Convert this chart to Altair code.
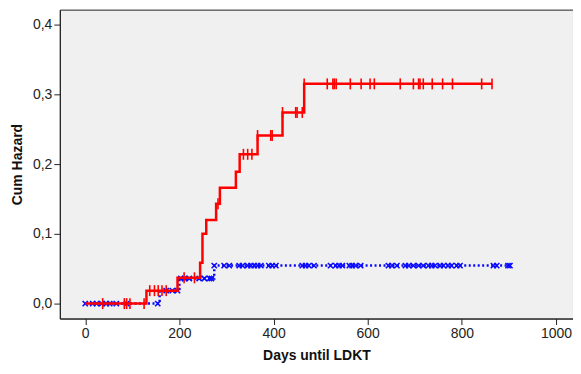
import altair as alt
import pandas as pd

# Red group: step times (days) and cumulative hazard
red_days = [0, 130, 196, 244, 249, 257, 278, 286, 320, 328, 366, 419, 465, 864]
red_haz = [0.0, 0.0186, 0.037, 0.0586, 0.100, 0.120, 0.143, 0.166, 0.189, 0.214, 0.241, 0.274, 0.315, 0.315]
red_cens_days = [37, 83, 88, 95, 125, 137, 147, 155, 163, 172, 210, 232, 282, 336, 345, 354,
                 366, 394, 397, 419, 447, 450, 461, 465, 514, 526, 529, 533, 563, 586, 605,
                 614, 669, 697, 708, 711, 718, 737, 759, 780, 842, 864]

# Blue group
blue_days = [0, 158, 200, 274, 903]
blue_haz = [0.0, 0.0186, 0.036, 0.0545, 0.0545]
blue_cens_days = [0, 16, 24, 35, 45, 52, 66, 88, 154, 172, 185, 196, 203, 211, 221, 242, 253,
                  264, 268, 274, 295, 306, 327, 334, 345, 352, 359, 366, 373, 390, 397, 405,
                  461, 468, 475, 486, 521, 532, 539, 546, 561, 567, 574, 585, 644, 651, 662,
                  680, 687, 697, 708, 718, 729, 736, 743, 754, 761, 771, 778, 789, 796, 867,
                  874, 898, 902]


def step_value(days, haz, d):
    v = haz[0]
    for t, h in zip(days, haz):
        if t <= d:
            v = h
    return v


red_df = pd.DataFrame({"day": red_days, "haz": red_haz})
blue_df = pd.DataFrame({"day": blue_days, "haz": blue_haz})
red_c = pd.DataFrame({"day": red_cens_days,
                      "haz": [step_value(red_days, red_haz, d) for d in red_cens_days]})
blue_c = pd.DataFrame({"day": blue_cens_days,
                       "haz": [step_value(blue_days, blue_haz, d) for d in blue_cens_days]})

RED = "#ff0000"
BLUE = "#0a0aff"

xs = alt.Scale(domain=[-54, 1036], nice=False, zero=False)
ys = alt.Scale(domain=[-0.0214, 0.4214], nice=False, zero=False)

x_axis = alt.Axis(values=[0, 200, 400, 600, 800, 1000], grid=False, title="Days until LDKT",
                  labelExpr="format(datum.value, 'd')",
                  labelFont="Liberation Sans", labelFontSize=14, labelColor="#222",
                  titleFont="Liberation Sans", titleFontSize=14, titleFontWeight="bold",
                  titleColor="#111", titlePadding=8, tickSize=6, tickColor="#222",
                  domainColor="#222", labelPadding=2)
y_axis = alt.Axis(values=[0, 0.1, 0.2, 0.3, 0.4], grid=False, title="Cum Hazard",
                  labelExpr="replace(format(datum.value, '.1f'), '.', ',')",
                  labelFont="Liberation Sans", labelFontSize=14, labelColor="#222",
                  titleFont="Liberation Sans", titleFontSize=14, titleFontWeight="bold",
                  titleColor="#111", titlePadding=8, tickSize=6, tickColor="#222",
                  domainColor="#222", labelPadding=2)

blue_line = alt.Chart(blue_df).mark_line(
    interpolate="step-after", color=BLUE, strokeWidth=2.5, strokeDash=[2, 2.5]
).encode(x=alt.X("day:Q", scale=xs, axis=x_axis), y=alt.Y("haz:Q", scale=ys, axis=y_axis))

blue_marks = alt.Chart(blue_c).mark_point(
    shape="M-1,-1L1,1M-1,1L1,-1", size=28, color=BLUE, filled=False, strokeWidth=1.6, opacity=1
).encode(x=alt.X("day:Q", scale=xs), y=alt.Y("haz:Q", scale=ys))

red_line = alt.Chart(red_df).mark_line(
    interpolate="step-after", color=RED, strokeWidth=2.5
).encode(x=alt.X("day:Q", scale=xs), y=alt.Y("haz:Q", scale=ys))

red_marks = alt.Chart(red_c).mark_tick(
    orient="vertical", size=11, thickness=1.6, color=RED, opacity=1
).encode(x=alt.X("day:Q", scale=xs), y=alt.Y("haz:Q", scale=ys))

chart = alt.layer(blue_line, blue_marks, red_line, red_marks).properties(
    width=515, height=310,
    background="white",
    autosize=alt.AutoSizeParams(type="none"),
    padding={"left": 52, "top": 1, "right": 0, "bottom": 50},
).configure_view(
    fill="#f0f0f0", stroke="#222", strokeWidth=1
)

chart.save("out.html", embed_options={"renderer": "svg", "actions": False})
